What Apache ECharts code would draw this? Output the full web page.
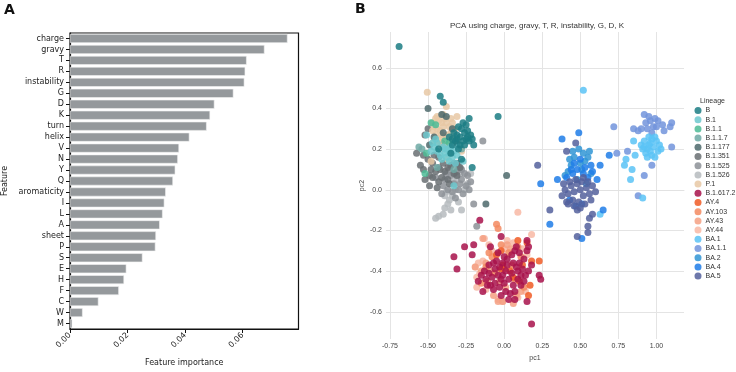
<!DOCTYPE html>
<html><head><meta charset="utf-8">
<script src="https://cdn.jsdelivr.net/npm/echarts@6/dist/echarts.min.js"></script>
<style>html,body{margin:0;padding:0;background:#fff}#c{width:736px;height:372px}</style>
</head><body><div id="c"></div>
<script>
// ---- Panel A data ----
const features = ['charge','gravy','T','R','instability','G','D','K','turn','helix','V','N','Y','Q','aromaticity','I','L','A','sheet','P','S','E','H','F','C','W','M'];
const importance = [0.0756,0.0676,0.0614,0.0609,0.0606,0.0568,0.0502,0.0487,0.0475,0.0415,0.0379,0.0375,0.0366,0.0358,0.0333,0.0328,0.0322,0.0312,0.0299,0.0297,0.0252,0.0196,0.0188,0.0170,0.0099,0.0044,0.0008];
const xTicksA = [0,0.02,0.04,0.06];

// ---- Panel B data ----
const lineages = ['B','B.1','B.1.1','B.1.1.7','B.1.177','B.1.351','B.1.525','B.1.526','P.1','B.1.617.2','AY.4','AY.103','AY.43','AY.44','BA.1','BA.1.1','BA.2','BA.4','BA.5'];
const lineageColors = ['#1b7d84','#6cc8ce','#4cbb95','#6fa9a5','#4e6a6c','#696e72','#8c9196','#b6bbbe','#e8c8a4','#a8124b','#f05a24','#f38a60','#f5a083','#f8b9a4','#5ac3f6','#7294dc','#3095d5','#1f7de7','#53609c'];
const xTicksB = [-0.75,-0.5,-0.25,0,0.25,0.5,0.75,1.0];
const yTicksB = [-0.6,-0.4,-0.2,0,0.2,0.4,0.6];

const pts_B = [[-0.69,0.705],[-0.42,0.46],[-0.40,0.43],[-0.23,0.35],[-0.04,0.36],[-0.30,0.31],[-0.28,0.30],[-0.26,0.28],[-0.24,0.29],[-0.22,0.27],[-0.25,0.25],[-0.27,0.24],[-0.29,0.26],[-0.31,0.27],[-0.33,0.28],[-0.32,0.24],[-0.29,0.22],[-0.26,0.22],[-0.23,0.24],[-0.21,0.25],[-0.20,0.22],[-0.34,0.22],[-0.36,0.26],[-0.30,0.20],[-0.43,0.20],[-0.28,0.15],[-0.21,0.11],[-0.35,0.18],[-0.25,0.32],[-0.27,0.33],[-0.31,0.25],[-0.24,0.26],[-0.34,0.25]];
const pts_B1 = [[-0.51,0.27],[-0.39,0.18],[-0.33,0.19],[-0.36,0.14],[-0.41,0.15],[-0.33,0.02],[-0.46,0.21],[-0.44,0.19],[-0.42,0.17],[-0.37,0.20],[-0.35,0.21],[-0.31,0.17],[-0.38,0.16],[-0.40,0.21],[-0.48,0.19],[-0.34,0.16],[-0.30,0.21],[-0.44,0.23],[-0.36,0.18],[-0.45,0.25],[-0.32,0.13],[-0.47,0.23],[-0.39,0.20],[-0.27,0.14]];
const pts_B11 = [[-0.48,0.33],[-0.39,0.24],[-0.51,0.18],[-0.52,0.08],[-0.45,0.32],[-0.36,0.23]];
const pts_B117 = [[-0.56,0.21],[-0.28,0.20],[-0.54,0.20],[-0.33,0.10],[-0.44,0.11]];
const pts_B1177 = [[-0.50,0.40],[-0.41,0.37],[0.016,0.07],[-0.12,-0.07],[-0.38,0.36],[-0.34,0.30],[-0.46,0.26],[-0.31,0.23],[-0.49,0.22],[-0.40,0.28]];
const pts_B1351 = [[-0.575,0.18],[-0.53,0.17],[-0.52,0.05],[-0.49,0.02],[-0.45,0.09],[-0.43,0.16],[-0.41,0.06],[-0.37,0.11],[-0.31,0.13],[-0.31,0.07],[-0.50,0.30],[-0.52,0.27],[-0.41,0.23],[-0.45,0.25],[-0.47,0.13],[-0.43,0.04],[-0.39,0.09],[-0.35,0.12],[-0.33,0.08],[-0.48,0.10],[-0.40,0.13],[-0.37,0.05],[-0.44,0.01],[-0.29,0.11],[-0.55,0.12],[-0.50,0.15],[-0.36,0.03],[-0.53,0.10],[-0.47,0.06],[-0.42,0.10],[-0.46,0.17],[-0.49,0.07]];
const pts_B1525 = [[-0.39,0.05],[-0.35,0.07],[-0.28,0.05],[-0.25,0.02],[-0.30,0.0],[-0.37,0.0],[-0.41,-0.02],[-0.31,0.09],[-0.28,0.10],[-0.43,0.11],[-0.24,0.07],[-0.14,0.24],[-0.20,-0.07],[-0.18,-0.18],[-0.33,0.03],[-0.27,-0.02],[-0.32,-0.04],[-0.22,0.04],[-0.26,0.08],[-0.34,-0.01],[-0.29,0.03],[-0.45,0.06],[-0.38,0.08],[-0.36,0.10],[-0.30,0.12],[-0.23,0.0],[-0.40,0.02],[-0.33,0.13]];
const pts_B1526 = [[-0.39,-0.03],[-0.37,-0.07],[-0.39,-0.09],[-0.36,-0.05],[-0.28,-0.10],[-0.43,-0.13],[-0.45,-0.14],[-0.40,-0.12],[-0.32,0.0],[-0.31,0.06],[-0.34,-0.03],[-0.26,0.0],[-0.30,-0.06],[-0.35,-0.10],[-0.24,0.03],[-0.33,0.04],[-0.22,0.08],[-0.38,-0.01],[-0.29,0.08]];
const pts_P1 = [[-0.505,0.48],[-0.38,0.41],[-0.45,0.35],[-0.43,0.34],[-0.41,0.33],[-0.46,0.31],[-0.44,0.30],[-0.42,0.29],[-0.40,0.31],[-0.38,0.33],[-0.36,0.31],[-0.35,0.28],[-0.37,0.27],[-0.39,0.26],[-0.41,0.27],[-0.43,0.25],[-0.45,0.27],[-0.47,0.29],[-0.47,0.33],[-0.39,0.35],[-0.34,0.33],[-0.32,0.30],[-0.33,0.25],[-0.36,0.24],[-0.42,0.23],[-0.48,0.14],[-0.37,0.15],[-0.28,0.19],[-0.31,0.36],[-0.44,0.36],[-0.40,0.37],[-0.46,0.24],[-0.38,0.22],[-0.35,0.35]];
const pts_B16172 = [[-0.16,-0.15],[-0.33,-0.33],[-0.31,-0.39],[-0.26,-0.28],[-0.20,-0.27],[-0.21,-0.32],[0.18,-0.66],[0.24,-0.44],[0.23,-0.42],[0.18,-0.37],[0.15,-0.25],[0.07,-0.30],[-0.14,-0.50],[-0.02,-0.23],[-0.09,-0.28],[0.07,-0.50],[0.07,-0.54],[0.15,-0.55],[-0.17,-0.45],[-0.05,-0.35],[-0.03,-0.38],[-0.01,-0.36],[0.01,-0.40],[-0.04,-0.42],[-0.02,-0.44],[0.0,-0.33],[0.02,-0.37],[-0.06,-0.39],[-0.08,-0.43],[-0.10,-0.41],[-0.12,-0.44],[-0.09,-0.47],[-0.06,-0.46],[-0.03,-0.48],[0.0,-0.46],[0.03,-0.44],[0.05,-0.41],[0.08,-0.38],[0.10,-0.36],[0.12,-0.39],[0.09,-0.44],[0.11,-0.47],[0.06,-0.47],[0.04,-0.51],[0.01,-0.50],[-0.02,-0.52],[-0.07,-0.49],[-0.11,-0.47],[-0.13,-0.40],[-0.04,-0.31],[0.05,-0.32],[0.08,-0.28],[0.10,-0.31],[0.13,-0.34],[0.14,-0.42],[0.13,-0.45],[0.16,-0.40],[-0.15,-0.42],[-0.07,-0.36],[0.03,-0.54],[0.09,-0.40],[0.11,-0.42],[-0.01,-0.42],[0.02,-0.34],[-0.10,-0.37],[0.06,-0.36],[0.15,-0.30],[0.16,-0.28]];
const pts_AY4 = [[-0.02,-0.30],[0.23,-0.35],[0.18,-0.35],[0.16,-0.52],[0.17,-0.47],[0.09,-0.25],[-0.02,-0.39],[0.04,-0.40],[0.12,-0.37],[0.06,-0.43],[-0.05,-0.32],[0.15,-0.26],[0.10,-0.45],[-0.01,-0.37]];
const pts_AY103 = [[-0.05,-0.17],[-0.04,-0.19],[0.09,-0.28],[0.0,-0.39],[-0.15,-0.46],[0.07,-0.44],[-0.08,-0.33],[0.03,-0.31],[-0.12,-0.38],[0.11,-0.33],[-0.02,-0.27],[0.05,-0.37],[-0.10,-0.31],[0.13,-0.48],[-0.06,-0.41]];
const pts_AY43 = [[-0.14,-0.24],[-0.04,-0.55],[-0.01,-0.55],[-0.19,-0.38],[0.06,-0.56],[-0.12,-0.36],[-0.09,-0.40],[-0.15,-0.40],[0.04,-0.29],[0.08,-0.52],[-0.07,-0.52],[0.01,-0.48],[-0.11,-0.45],[0.11,-0.50],[-0.03,-0.45],[0.02,-0.27]];
const pts_AY44 = [[0.09,-0.11],[0.18,-0.22],[-0.19,-0.38],[-0.18,-0.43],[-0.10,-0.27],[-0.13,-0.24],[0.02,-0.25],[-0.18,-0.48],[-0.04,-0.54],[-0.01,-0.55],[-0.16,-0.41],[-0.14,-0.35],[0.12,-0.29],[0.15,-0.32],[-0.08,-0.30],[0.06,-0.26],[-0.17,-0.36],[0.09,-0.53],[-0.12,-0.49],[0.14,-0.50],[0.0,-0.29]];
const pts_BA1 = [[0.52,0.49],[0.90,0.22],[0.92,0.24],[0.94,0.20],[0.96,0.23],[0.98,0.21],[1.00,0.24],[1.02,0.22],[0.93,0.18],[0.97,0.17],[1.01,0.19],[0.95,0.26],[0.99,0.26],[0.91,0.20],[0.94,0.16],[0.97,0.25],[1.03,0.20],[0.96,0.19],[0.99,0.16],[0.92,0.21],[0.95,0.22],[0.85,0.24],[0.80,0.15],[0.79,0.12],[0.84,0.10],[0.83,0.05],[0.86,0.17],[0.91,-0.04],[0.63,-0.12]];
const pts_BA11 = [[0.92,0.37],[0.96,0.34],[0.93,0.33],[1.01,0.34],[1.10,0.33],[1.09,0.31],[1.05,0.29],[0.98,0.31],[0.90,0.30],[0.85,0.30],[0.97,0.28],[1.00,0.31],[0.72,0.31],[1.10,0.21],[0.81,0.19],[0.74,0.18],[0.92,0.07],[0.97,0.12],[0.88,-0.03],[0.95,0.36],[0.99,0.35],[0.94,0.30],[1.04,0.32],[0.88,0.29]];
const pts_BA2 = [[0.45,0.19],[0.52,0.18],[0.56,0.19],[0.44,0.12],[0.50,0.13],[0.55,0.16],[0.40,0.07],[0.48,0.05],[0.53,0.14],[0.46,0.16],[0.42,0.09],[0.57,0.08],[0.49,0.20],[0.51,0.10],[0.54,0.03],[0.43,0.15]];
const pts_BA4 = [[0.49,0.28],[0.38,0.25],[0.69,0.17],[0.63,0.12],[0.35,0.05],[0.24,0.03],[0.65,-0.10],[0.30,-0.17],[0.51,-0.24],[0.61,0.05],[0.58,0.09],[0.45,0.08],[0.48,0.10],[0.52,0.08],[0.55,0.06],[0.43,-0.05],[0.47,-0.08],[0.50,0.15],[0.44,0.10],[0.41,0.06],[0.57,0.12],[0.53,0.11],[0.46,0.13],[0.51,-0.07]];
const pts_BA5 = [[0.40,0.0],[0.42,-0.02],[0.44,0.02],[0.46,-0.01],[0.48,0.03],[0.50,0.0],[0.52,-0.03],[0.54,0.01],[0.56,-0.02],[0.58,0.02],[0.45,-0.05],[0.49,-0.06],[0.53,-0.07],[0.41,-0.06],[0.38,-0.03],[0.47,0.05],[0.51,0.04],[0.55,0.04],[0.57,-0.05],[0.60,-0.01],[0.43,0.04],[0.50,-0.09],[0.46,-0.08],[0.52,0.06],[0.39,0.03],[0.47,0.23],[0.41,0.19],[0.22,0.12],[0.30,-0.10],[0.58,-0.12],[0.56,-0.14],[0.55,-0.18],[0.55,-0.21],[0.48,-0.23],[0.42,-0.07],[0.48,-0.10]];

const pointsByLineage = {'B':pts_B,'B.1':pts_B1,'B.1.1':pts_B11,'B.1.1.7':pts_B117,'B.1.177':pts_B1177,'B.1.351':pts_B1351,'B.1.525':pts_B1525,'B.1.526':pts_B1526,'P.1':pts_P1,'B.1.617.2':pts_B16172,'AY.4':pts_AY4,'AY.103':pts_AY103,'AY.43':pts_AY43,'AY.44':pts_AY44,'BA.1':pts_BA1,'BA.1.1':pts_BA11,'BA.2':pts_BA2,'BA.4':pts_BA4,'BA.5':pts_BA5};
const drawOrder = ['B.1.526','B.1.525','B.1.351','P.1','B.1.177','B.1.1.7','B.1.1','B.1','B','AY.44','AY.43','AY.103','AY.4','B.1.617.2','BA.1.1','BA.1','BA.2','BA.4','BA.5'];

const fA = 'DejaVu Sans';
const fB = 'Liberation Sans, Arial, sans-serif';

const scatterSeries = drawOrder.map(name => ({
  name: name, type: 'scatter', xAxisIndex: 1, yAxisIndex: 1,
  data: pointsByLineage[name], symbol: 'circle', symbolSize: 7,
  itemStyle: { color: lineageColors[lineages.indexOf(name)], opacity: 0.85 },
  emphasis: { disabled: true }
}));

const chart = echarts.init(document.getElementById('c'), null, { renderer: 'canvas' });
chart.setOption({
  animation: false,
  backgroundColor: '#fff',
  grid: [
    { left: 70, top: 33, width: 228.5, height: 298, show: true, borderColor: '#111', borderWidth: 1.2, backgroundColor: 'transparent' },
    { left: 386, top: 32, width: 298, height: 307 }
  ],
  xAxis: [
    { type: 'value', gridIndex: 0, min: 0, max: 0.0794,
      axisLine: { show: true, lineStyle: { color: '#111', width: 1.2 } },
      axisTick: { show: true, length: 4, customValues: xTicksA, lineStyle: { color: '#111' } },
      axisLabel: { customValues: xTicksA, rotate: 45, fontSize: 8, color: '#222', fontFamily: fA, margin: 5, formatter: v => v.toFixed(2) },
      splitLine: { show: false },
      name: 'Feature importance', nameLocation: 'middle', nameGap: 30,
      nameTextStyle: { fontSize: 8, color: '#222', fontFamily: fA } },
    { type: 'value', gridIndex: 1, min: -0.776, max: 1.181,
      axisLine: { show: true, lineStyle: { color: '#e2e2e2', width: 1 } },
      axisTick: { show: false, customValues: xTicksB },
      axisLabel: { customValues: xTicksB, fontSize: 7, color: '#444', fontFamily: fB, margin: 4, formatter: v => v.toFixed(2) },
      splitLine: { show: true, lineStyle: { color: '#e4e4e4', width: 1 } },
      name: 'pc1', nameLocation: 'middle', nameGap: 13,
      nameTextStyle: { fontSize: 7, color: '#444', fontFamily: fB } }
  ],
  yAxis: [
    { type: 'category', gridIndex: 0, data: features, inverse: true,
      axisLine: { show: true, lineStyle: { color: '#111', width: 1.2 } },
      axisTick: { show: true, length: 4, alignWithLabel: true, lineStyle: { color: '#111' } },
      axisLabel: { fontSize: 8, color: '#222', fontFamily: fA, margin: 6, interval: 0 },
      name: 'Feature', nameLocation: 'middle', nameGap: 61, nameRotate: 90,
      nameTextStyle: { fontSize: 8, color: '#222', fontFamily: fA } },
    { type: 'value', gridIndex: 1, min: -0.734, max: 0.776,
      axisLine: { show: false },
      axisTick: { show: false, customValues: yTicksB },
      axisLabel: { customValues: yTicksB, fontSize: 7, color: '#444', fontFamily: fB, margin: 4, formatter: v => v.toFixed(1) },
      splitLine: { show: true, lineStyle: { color: '#e4e4e4', width: 1 } },
      name: 'pc2', nameLocation: 'middle', nameGap: 17, nameRotate: 90,
      nameTextStyle: { fontSize: 7, color: '#444', fontFamily: fB } }
  ],
  legend: {
    data: lineages, orient: 'vertical', left: 694.5, top: 107,
    itemWidth: 7, itemHeight: 7, itemGap: 2.2, icon: 'circle', padding: 0,
    selectedMode: false,
    textStyle: { fontSize: 7, color: '#333', fontFamily: fB, lineHeight: 7, padding: [0, 0, 0, -1] }
  },
  title: {
    text: 'PCA using charge, gravy, T, R, instability, G, D, K',
    left: 537, top: 22, textAlign: 'center', padding: 0,
    textStyle: { fontSize: 8, fontWeight: 'normal', color: '#333', fontFamily: fB }
  },
  graphic: [
    { type: 'text', left: 4, top: 3, style: { text: 'A', fontSize: 14, fontWeight: 'bold', fill: '#111', fontFamily: 'DejaVu Sans' } },
    { type: 'text', left: 355, top: 2, style: { text: 'B', fontSize: 14, fontWeight: 'bold', fill: '#111', fontFamily: 'DejaVu Sans' } },
    { type: 'text', left: 700, top: 98, style: { text: 'Lineage', fontSize: 7, fill: '#333', fontFamily: fB } }
  ],
  series: [
    { type: 'bar', xAxisIndex: 0, yAxisIndex: 0, data: importance, barCategoryGap: '18%',
      itemStyle: { color: '#95999c', borderColor: '#f2f2f2', borderWidth: 0.6 }, emphasis: { disabled: true } }
  ].concat(scatterSeries)
});
</script></body></html>
